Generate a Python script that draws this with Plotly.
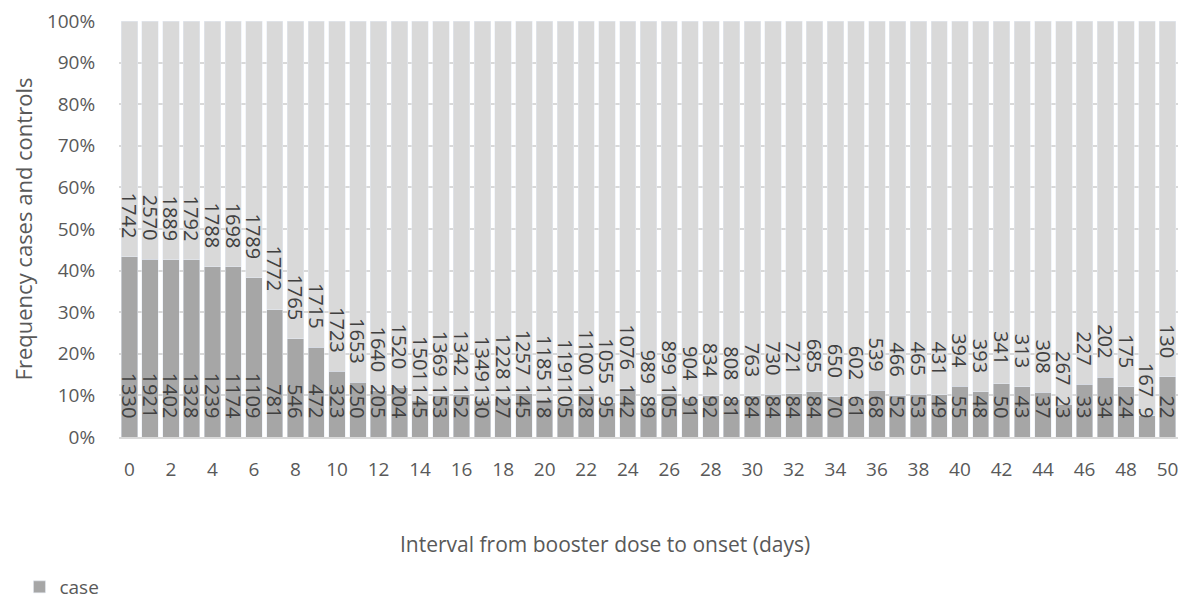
import plotly.graph_objects as go

days = list(range(0, 51))
cases = [1330, 1921, 1402, 1328, 1239, 1174, 1109, 781, 546, 472, 323, 250,
         205, 204, 145, 153, 152, 130, 127, 145, 118, 105, 128, 95, 142, 89,
         105, 91, 92, 81, 84, 84, 84, 84, 70, 61, 68, 52, 53, 49, 55, 48, 50,
         43, 37, 23, 33, 34, 24, 9, 22]
controls = [1742, 2570, 1889, 1792, 1788, 1698, 1789, 1772, 1765, 1715, 1723,
            1653, 1640, 1520, 1501, 1369, 1342, 1349, 1228, 1257, 1185, 1191,
            1100, 1055, 1076, 989, 899, 904, 834, 808, 763, 730, 721, 685, 650,
            602, 539, 466, 465, 431, 394, 393, 341, 313, 308, 267, 227, 202,
            175, 167, 130]
y_ticks = [0, 10, 20, 30, 40, 50, 60, 70, 80, 90, 100]
y_ticklabels = [f"{v}%" for v in y_ticks]
x_ticks = list(range(0, 51, 2))

CASE_COLOR = "#A6A6A6"
CTRL_COLOR = "#D9D9D9"
TXT = "#595959"
LBL = "#404040"
FONT = "Open Sans"
PAD = "\u00a0\u00a0\u00a0"

fig = go.Figure()
# visible bars
fig.add_trace(go.Bar(x=days, y=cases, name="case", marker_color=CASE_COLOR,
                     hoverinfo="skip"))
fig.add_trace(go.Bar(x=days, y=controls, name="control", marker_color=CTRL_COLOR,
                     showlegend=False, hoverinfo="skip"))
# same stacks on an overlaid pair of axes, transparent, carrying the labels on top
for vals in (cases, controls):
    fig.add_trace(go.Bar(
        x=days, y=vals, xaxis="x2", yaxis="y2", showlegend=False,
        marker=dict(color="rgba(0,0,0,0)", line=dict(width=0)),
        text=vals, texttemplate="%{text}" + PAD, textposition="inside",
        insidetextanchor="start", textangle=90, constraintext="none",
        textfont=dict(family=FONT, size=20, color=LBL),
    ))

fig.update_layout(
    barmode="stack", barnorm="percent", bargap=0.21,
    width=1184, height=594,
    margin=dict(l=111, r=14, t=13, b=165, autoexpand=False),
    paper_bgcolor="white", plot_bgcolor="white",
    font=dict(family=FONT, color=TXT, size=19),
    showlegend=True,
    legend=dict(orientation="h", x=-0.094, y=-0.3606, xanchor="left", yanchor="middle",
                font=dict(family=FONT, size=19, color=TXT),
                itemwidth=30, tracegroupgap=0),
    xaxis=dict(
        tickmode="array", tickvals=x_ticks, ticktext=[str(v) for v in x_ticks],
        tickfont=dict(family=FONT, size=19, color=TXT),
        showgrid=False, showline=True, linecolor="#D9D9D9", linewidth=1.5,
        ticks="outside", ticklen=14, tickcolor="rgba(0,0,0,0)",
        range=[-0.5, 50.5], zeroline=False,
    ),
    yaxis=dict(
        range=[0, 100], tickmode="array", tickvals=y_ticks, ticktext=y_ticklabels,
        tickfont=dict(family=FONT, size=19, color=TXT), ticklabeloverflow="allow",
        showgrid=True, gridcolor="#D9D9D9", gridwidth=1.5, zeroline=False,
        ticks="outside", ticklen=19, tickcolor="rgba(0,0,0,0)",
        title=dict(text="Frequency cases and controls",
                   font=dict(family=FONT, size=22, color=TXT), standoff=24),
    ),
    xaxis2=dict(overlaying="x", range=[-0.5, 50.5], visible=False),
    yaxis2=dict(overlaying="y", range=[0, 100], visible=False),
    annotations=[dict(
        text="Interval from booster dose to onset (days)",
        xref="paper", yref="paper", x=0.459, y=-0.257,
        xanchor="center", yanchor="middle", showarrow=False,
        font=dict(family=FONT, size=21, color=TXT),
    )],
)

fig.write_html("out.html")
